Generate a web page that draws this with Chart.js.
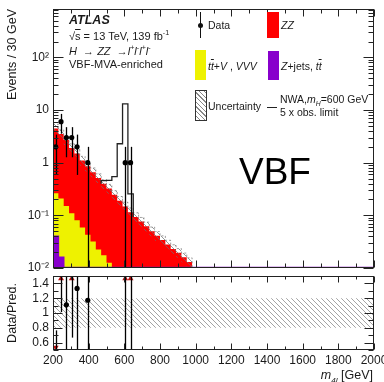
<!DOCTYPE html>
<html>
<head>
<meta charset="utf-8">
<script src="https://cdn.jsdelivr.net/npm/chart.js@4.4.1/dist/chart.umd.min.js"></script>
<style>
  body { margin: 0; width: 384px; height: 382px; overflow: hidden; position: relative; background: #fff;
         font-family: "Liberation Sans", Arial, sans-serif; color: #1a1a1a; }
  canvas { position: absolute; left: 0; }
  #main { top: 0; }
  #ratio { top: 272px; }
  .t { position: absolute; white-space: nowrap; line-height: 1; }
  .lg { font-size: 10.5px; }
  .box { position: absolute; }
  sup, sub { font-size: 0.65em; line-height: 0; }
  .ov { text-decoration: overline; }
</style>
</head>
<body>
<canvas id="main" width="384" height="272"></canvas>
<canvas id="ratio" width="384" height="110"></canvas>

<!-- labels -->
<div class="t" style="left:69px;top:14px;font-size:12.5px;font-weight:bold;font-style:italic">ATLAS</div>
<div class="t" style="left:69px;top:30.5px;font-size:11px">√<span class="ov">s</span> = 13 TeV, 139 fb<sup>-1</sup></div>
<div class="t" style="left:69px;top:45.5px;font-size:11px"><i>H</i> &nbsp;→ <i>ZZ</i> &nbsp;→<i>l</i><sup>+</sup><i>l</i><sup>-</sup><i>l</i><sup>+</sup><i>l</i><sup>-</sup></div>
<div class="t" style="left:69px;top:58.5px;font-size:11px">VBF-MVA-enriched</div>

<!-- legend -->
<div class="box" style="left:200px;top:12px;width:1.3px;height:26px;background:#111"></div>
<div class="box" style="left:198px;top:22.5px;width:5px;height:5px;border-radius:50%;background:#111"></div>
<div class="t lg" style="left:208px;top:20px">Data</div>
<div class="box" style="left:267px;top:12px;width:12px;height:26px;background:#ff0000"></div>
<div class="t lg" style="left:281px;top:20px"><i>ZZ</i></div>
<div class="box" style="left:195px;top:50px;width:11px;height:30px;background:#eef200"></div>
<div class="t lg" style="left:208px;top:61px"><i>t<span class="ov">t</span></i>+<i>V</i> , <i>VVV</i></div>
<div class="box" style="left:268px;top:51px;width:11px;height:29px;background:#8800cc"></div>
<div class="t lg" style="left:281px;top:61px"><i>Z</i>+jets, <i>t<span class="ov">t</span></i></div>
<div class="box" style="left:195px;top:90px;width:10px;height:29px;border:1px solid #333;background:repeating-linear-gradient(45deg,#fff 0 2.4px,#888 2.4px 3.3px)"></div>
<div class="t lg" style="left:208px;top:101px">Uncertainty</div>
<div class="box" style="left:267px;top:106.5px;width:10px;height:1.3px;background:#222"></div>
<div class="t lg" style="left:280px;top:94px">NWA,<i>m<sub>H</sub></i>=600 GeV</div>
<div class="t lg" style="left:280px;top:107px">5 x obs. limit</div>

<div class="t" style="left:239px;top:152.7px;font-size:37px;color:#000">VBF</div>
<div class="t" style="right:11px;top:369px;font-size:12.5px"><i>m</i><sub><i>4l</i></sub> [GeV]</div>

<script>
// binning: 30 GeV bins from 200 to 2000 GeV
const binStart = 200, binWidth = 30, nBins = 60;

// per-bin expected events, first entry is the 200-230 GeV bin; bins not listed are empty
const zz    = [4.2, 3.3, 2.55, 1.79, 1.42, 1.04, 0.81, 0.63, 0.49, 0.38, 0.31, 0.236, 0.183, 0.143,
               0.111, 0.090, 0.076, 0.062, 0.050, 0.041, 0.034, 0.028, 0.023, 0.0195, 0.016, 0.013];
const ttV   = [0.223, 0.193, 0.147, 0.108, 0.080, 0.059, 0.043, 0.032, 0.0224, 0.0174, 0.0126,
               0.009, 0.007, 0.005, 0.004, 0.003];
const zjets = [0.04, 0.016, 0.004, 0.002, 0.001];
// NWA mH = 600 GeV signal (5 x obs. limit), stacked on the background
const signal = [0, 0, 0, 0, 0, 0, 0, 0, 0, 0.06, 0.14, 0.30, 2.1, 12.9, 0.14];
const dataCounts = [2, 6, 3, 3, 2, 0, 1, 0, 0, 0, 0, 0, 0, 1, 1];
const uncRel = 0.2;

const yTickValues = [0.01, 0.1, 1, 10, 100];
const yTickLabels = ['10⁻²', '10⁻¹', '1', '10', '10²'];
const ratioTicks = [0.6, 0.8, 1, 1.2, 1.4];
const yMin = 0.01, yMax = 830, ratioMin = 0.5, ratioMax = 1.5;

const C = {
  red: '#ff0000', yellow: '#eef200', purple: '#8800cc', ink: '#1a1a1a', arrow: '#c01010'
};

Chart.defaults.font.family = '"Liberation Sans", Arial, sans-serif';
Chart.defaults.color = C.ink;

const val = (arr, i) => arr[i] || 0;
const edges = Array.from({ length: nBins + 1 }, (_, i) => binStart + i * binWidth);
const centers = edges.slice(0, -1).map(e => e + binWidth / 2);
const cumZj = centers.map((_, i) => val(zjets, i));
const cumTtv = cumZj.map((v, i) => v + val(ttV, i));
const total = cumTtv.map((v, i) => v + val(zz, i));
const floorY = yMin * 1.02;   // like ROOT, draw empty bins on the frame bottom

function stepPts(vals, lo) {
  const pts = vals.map((v, i) => ({ x: edges[i], y: Math.max(v, lo) }));
  pts.push({ x: edges[nBins], y: Math.max(vals[nBins - 1], lo) });
  return pts;
}

function hatch(color) {
  const c = document.createElement('canvas');
  c.width = c.height = 5;
  const g = c.getContext('2d');
  g.strokeStyle = color; g.lineWidth = 0.8;
  g.beginPath();
  g.moveTo(0, 0); g.lineTo(5, 5);
  g.moveTo(-1, 4); g.lineTo(1, 6);
  g.moveTo(4, -1); g.lineTo(6, 1);
  g.stroke();
  return g.createPattern(c, 'repeat');
}

// inward ticks + frame, ROOT style
const innerTicks = {
  id: 'innerTicks',
  afterDraw(chart, args, o) {
    const { ctx, chartArea: a, scales: { x, y } } = chart;
    const L = a.left + 0.5, R = a.right - 0.5, T = a.top + 0.5, B = a.bottom - 0.5;
    ctx.save();
    ctx.strokeStyle = '#222'; ctx.lineWidth = 1;
    ctx.strokeRect(L, T, R - L, B - T);
    ctx.beginPath();
    const xt = (v, len) => {
      const p = Math.round(x.getPixelForValue(v)) + 0.5;
      ctx.moveTo(p, B); ctx.lineTo(p, B - len); ctx.moveTo(p, T); ctx.lineTo(p, T + len);
    };
    const yt = (v, len) => {
      const p = Math.round(y.getPixelForValue(v)) + 0.5;
      ctx.moveTo(L, p); ctx.lineTo(L + len, p); ctx.moveTo(R, p); ctx.lineTo(R - len, p);
    };
    for (let v = x.min; v <= x.max; v += o.xMinor) xt(v, (v - x.min) % o.xMajor ? o.xMinorLen : o.xMajorLen);
    o.yMajor.forEach(v => yt(v, o.yMajorLen));
    o.yMinor.forEach(v => yt(v, o.yMinorLen));
    ctx.stroke();
    ctx.restore();
  }
};

// vertical error bars from errLo / errHi of a dataset
const errorBars = {
  id: 'errorBars',
  afterDatasetsDraw(chart) {
    const { ctx, chartArea: a, scales: { x, y } } = chart;
    ctx.save();
    ctx.beginPath(); ctx.rect(a.left, a.top, a.right - a.left, a.bottom - a.top); ctx.clip();
    chart.data.datasets.forEach(ds => {
      if (!ds.errLo) return;
      ctx.strokeStyle = '#000'; ctx.lineWidth = 1.3;
      ds.data.forEach((p, i) => {
        const px = Math.round(x.getPixelForValue(p.x)) + 0.5;
        const lo = ds.errLo[i] > y.min ? y.getPixelForValue(ds.errLo[i]) : a.bottom;
        const hi = ds.errHi[i] < y.max ? y.getPixelForValue(ds.errHi[i]) : a.top;
        ctx.beginPath(); ctx.moveTo(px, lo); ctx.lineTo(px, hi); ctx.stroke();
      });
    });
    ctx.restore();
  }
};

const fixAxis = (w) => (s) => {
  s.paddingTop = s.paddingBottom = s.paddingLeft = s.paddingRight = 0;
  if (s.isHorizontal()) s.height = w; else s.width = w;
};

// ---------- main panel ----------
const dataPts = [], dataLo = [], dataHi = [];
dataCounts.forEach((n, i) => {
  if (!n) return;
  dataPts.push({ x: centers[i], y: n });
  dataLo.push(n - Math.sqrt(n));
  dataHi.push(n + Math.sqrt(n));
});

const sigBins = signal.map((s, i) => s > 0 ? i : -1).filter(i => i >= 0);
const i0 = sigBins[0], i1 = sigBins[sigBins.length - 1];
const sigPts = [{ x: edges[i0], y: total[i0] }];
for (let i = i0; i <= i1; i++) sigPts.push({ x: edges[i], y: total[i] + signal[i] });
sigPts.push({ x: edges[i1 + 1], y: total[i1 + 1] });

const yMinor = [];
yTickValues.forEach(d => { for (let k = 2; k <= 9; k++) if (k * d < yMax) yMinor.push(k * d); });

const noBorder = 'rgba(0,0,0,0)';
new Chart(document.getElementById('main'), {
  type: 'line',
  data: {
    datasets: [
      { data: dataPts, showLine: false, pointRadius: 2.6, pointBorderWidth: 0,
        pointBackgroundColor: '#000', errLo: dataLo, errHi: dataHi },
      { data: sigPts, stepped: 'before', borderColor: '#222', borderWidth: 1.3, pointRadius: 0, fill: false },
      { data: stepPts(total.map(v => v * (1 + uncRel)), floorY), stepped: 'before',
        borderColor: 'rgba(120,120,120,0.9)', borderWidth: 0.8, borderDash: [2, 2],
        pointRadius: 0, fill: '+1', backgroundColor: hatch('rgba(110,110,110,0.9)') },
      { data: stepPts(total.map(v => v * (1 - uncRel)), floorY), stepped: 'before',
        borderColor: noBorder, borderWidth: 1, pointRadius: 0, fill: false },
      { data: stepPts(cumZj, floorY), stepped: 'before', borderColor: C.purple, borderWidth: 1.6,
        pointRadius: 0, fill: 'start', backgroundColor: C.purple },
      { data: stepPts(cumTtv, floorY), stepped: 'before', borderColor: noBorder, borderWidth: 1,
        pointRadius: 0, fill: 'start', backgroundColor: C.yellow },
      { data: stepPts(total, floorY), stepped: 'before', borderColor: noBorder, borderWidth: 1,
        pointRadius: 0, fill: 'start', backgroundColor: C.red }
    ]
  },
  options: {
    responsive: false, devicePixelRatio: 1, animation: false,
    layout: { padding: { top: 9, right: 10, bottom: 3, left: 0 } },
    plugins: {
      legend: { display: false }, tooltip: { enabled: false },
      innerTicks: { xMinor: 100, xMajor: 200, xMajorLen: 7, xMinorLen: 4,
                    yMajor: yTickValues, yMinor: yMinor, yMajorLen: 10, yMinorLen: 5 }
    },
    scales: {
      x: { type: 'linear', min: edges[0], max: edges[nBins],
           ticks: { display: false, stepSize: 200 }, grid: { display: false }, border: { display: false },
           afterFit: fixAxis(0) },
      y: { type: 'logarithmic', min: yMin, max: yMax,
           afterBuildTicks: s => { s.ticks = yTickValues.map(v => ({ value: v })); },
           ticks: { padding: 4, font: { size: 12 }, color: C.ink,
                    callback: v => yTickLabels[yTickValues.indexOf(v)] },
           grid: { display: false, drawTicks: false }, border: { display: false },
           title: { display: true, text: 'Events / 30 GeV', align: 'end', color: C.ink,
                    font: { size: 12.5 }, padding: { top: 5, bottom: 0 } },
           afterFit: fixAxis(53) }
    }
  },
  plugins: [innerTicks, errorBars]
});

// ---------- ratio panel ----------
const rIn = [], rInLo = [], rInHi = [];
const rUp = [], rUpLo = [], rUpHi = [];
const rDown = [], rDownLo = [], rDownHi = [];
dataCounts.forEach((n, i) => {
  if (!n) return;
  const r = n / total[i], e = Math.sqrt(n) / total[i];
  if (r > ratioMax) { rUp.push({ x: centers[i], y: ratioMax - 0.035 }); rUpLo.push(r - e); rUpHi.push(r + e); }
  else if (r < ratioMin) { rDown.push({ x: centers[i], y: ratioMin + 0.035 }); rDownLo.push(r - e); rDownHi.push(r + e); }
  else { rIn.push({ x: centers[i], y: r }); rInLo.push(r - e); rInHi.push(r + e); }
});

const ratioMinor = [];
for (let v = ratioMin; v <= ratioMax + 1e-9; v += 0.1) ratioMinor.push(+v.toFixed(2));

new Chart(document.getElementById('ratio'), {
  type: 'line',
  data: {
    datasets: [
      { data: rIn, showLine: false, pointRadius: 2.6, pointBorderWidth: 0,
        pointBackgroundColor: '#000', errLo: rInLo, errHi: rInHi },
      { data: rUp, showLine: false, pointStyle: 'triangle', pointRadius: 3.4, pointBorderWidth: 0,
        pointBackgroundColor: C.arrow, errLo: rUpLo, errHi: rUpHi },
      { data: rDown, showLine: false, pointStyle: 'triangle', pointRotation: 180, pointRadius: 3.4,
        pointBorderWidth: 0, pointBackgroundColor: C.arrow, errLo: rDownLo, errHi: rDownHi },
      { data: stepPts(centers.map(() => 1 + uncRel), 0), stepped: 'before', borderColor: noBorder,
        borderWidth: 1, pointRadius: 0, fill: '+1', backgroundColor: hatch('rgba(120,120,120,0.85)') },
      { data: stepPts(centers.map(() => 1 - uncRel), 0), stepped: 'before', borderColor: noBorder,
        borderWidth: 1, pointRadius: 0, fill: false }
    ]
  },
  options: {
    responsive: false, devicePixelRatio: 1, animation: false,
    layout: { padding: { top: 4, right: 10, bottom: 0, left: 0 } },
    plugins: {
      legend: { display: false }, tooltip: { enabled: false },
      innerTicks: { xMinor: 100, xMajor: 200, xMajorLen: 6, xMinorLen: 3,
                    yMajor: ratioTicks, yMinor: ratioMinor, yMajorLen: 9, yMinorLen: 5 }
    },
    scales: {
      x: { type: 'linear', min: edges[0], max: edges[nBins],
           ticks: { stepSize: 200, padding: 3, maxRotation: 0, autoSkip: false, font: { size: 12 },
                    color: C.ink, callback: v => String(v) },
           grid: { display: false, drawTicks: false }, border: { display: false },
           afterFit: fixAxis(32) },
      y: { type: 'linear', min: ratioMin, max: ratioMax,
           afterBuildTicks: s => { s.ticks = ratioTicks.map(v => ({ value: v })); },
           ticks: { padding: 4, font: { size: 12 }, color: C.ink, callback: v => String(v) },
           grid: { display: false, drawTicks: false }, border: { display: false },
           title: { display: true, text: 'Data/Pred.', color: C.ink,
                    font: { size: 12.5 }, padding: { top: 5, bottom: 0 } },
           afterFit: fixAxis(53) }
    }
  },
  plugins: [innerTicks, errorBars]
});
</script>
</body>
</html>
